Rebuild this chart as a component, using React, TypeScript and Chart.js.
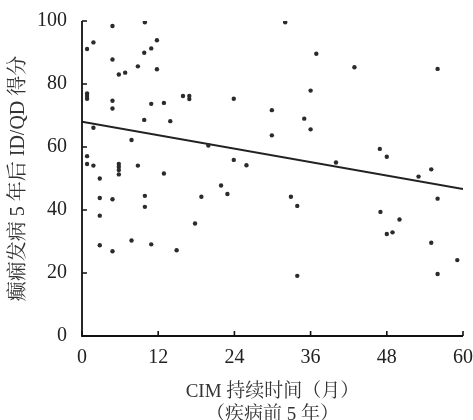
import React, { useEffect, useRef } from "react";
import { Chart, registerables } from "chart.js";

Chart.register(...registerables);

const xValues = [
  4.8, 9.9, 1.8, 0.8, 11.8, 10.9, 9.8, 4.8, 8.8, 11.8, 6.8, 5.8, 0.8, 0.8, 0.8,
  4.8, 4.8, 10.9, 12.9, 15.9, 16.9, 16.9, 9.8, 13.9, 1.8, 7.8, 0.8, 0.8, 1.8,
  5.8, 5.8, 5.8, 8.8, 5.8, 12.9, 2.8, 2.8, 4.8, 9.9, 9.9, 18.8, 2.8, 17.8, 7.8,
  2.8, 4.8, 10.9, 14.9, 32.0, 36.9, 36.0, 23.9, 29.9, 35.0, 36.0, 29.9, 19.9,
  23.9, 25.9, 40.0, 21.9, 22.9, 32.9, 33.9, 33.9, 42.9, 56.0, 46.9, 48.0, 55.0,
  53.0, 56.0, 47.0, 50.0, 48.0, 48.9, 55.0, 59.1, 56.0,
];
const yValues = [
  98.4, 99.6, 93.2, 91.1, 93.9, 91.3, 89.9, 87.8, 85.6, 84.7, 83.6, 83.0, 77.0,
  76.2, 75.3, 74.7, 72.2, 73.7, 74.0, 76.2, 76.2, 75.2, 68.6, 68.2, 66.1, 62.2,
  57.1, 54.6, 54.1, 54.6, 53.7, 52.7, 54.1, 51.3, 51.6, 50.0, 43.8, 43.4, 44.5,
  41.0, 44.2, 38.2, 35.7, 30.3, 28.8, 26.9, 29.1, 27.2, 99.6, 89.6, 77.9, 75.3,
  71.7, 69.0, 65.6, 63.7, 60.5, 55.9, 54.2, 55.1, 47.8, 45.1, 44.2, 41.3, 19.1,
  85.3, 84.8, 59.4, 56.9, 52.9, 50.6, 43.6, 39.4, 37.0, 32.4, 32.9, 29.6, 24.1,
  19.7,
];
const fitX = [0, 60];
const fitY = [68.0, 46.7];
const xTicks = [0, 12, 24, 36, 48, 60];
const yTicks = [0, 20, 40, 60, 80, 100];
const xTitle = ["CIM 持续时间（月）", "（疾病前 5 年）"];
const yTitle = "癫痫发病 5 年后 ID/QD 得分";

const FONT = "'Liberation Serif', 'Noto Serif CJK SC', 'Noto Sans CJK SC', serif";

const axisPlugin = {
  id: "innerAxes",
  afterDraw(chart: any) {
    const ctx = chart.ctx;
    const xs = chart.scales.x;
    const ys = chart.scales.y;
    const left = xs.getPixelForValue(0);
    const right = xs.getPixelForValue(60);
    const bottom = ys.getPixelForValue(0);
    const top = ys.getPixelForValue(100);
    ctx.save();
    ctx.strokeStyle = "#111";
    ctx.lineWidth = 1.8;
    ctx.beginPath();
    ctx.moveTo(left, top);
    ctx.lineTo(left, bottom);
    ctx.lineTo(right, bottom);
    ctx.stroke();
    ctx.lineWidth = 1.6;
    ctx.beginPath();
    yTicks.forEach((v) => {
      const py = ys.getPixelForValue(v);
      ctx.moveTo(left, py);
      ctx.lineTo(left + 5, py);
    });
    xTicks.forEach((v) => {
      const px = xs.getPixelForValue(v);
      ctx.moveTo(px, bottom);
      ctx.lineTo(px, bottom - 5);
    });
    ctx.stroke();
    ctx.restore();
  },
};

const zeroPad = (s: any) => {
  s.paddingTop = 0;
  s.paddingBottom = 0;
  s.paddingLeft = 0;
  s.paddingRight = 0;
};

export default function App() {
  const ref = useRef<HTMLCanvasElement | null>(null);
  useEffect(() => {
    document.body.style.margin = "0";
    const canvas = ref.current!;
    const points = xValues.map((x, i) => ({ x, y: yValues[i] }));
    const fit = fitX.map((x, i) => ({ x, y: fitY[i] }));
    const chart = new Chart(canvas, {
      type: "scatter",
      data: {
        datasets: [
          {
            data: points,
            pointRadius: 2.2,
            pointBackgroundColor: "#2b2b2b",
            pointBorderWidth: 0,
            pointHoverRadius: 2.2,
          },
          {
            type: "line",
            data: fit,
            showLine: true,
            pointRadius: 0,
            borderColor: "#222",
            borderWidth: 2,
            fill: false,
          } as any,
        ],
      },
      options: {
        animation: false,
        responsive: false,
        events: [],
        layout: { padding: { top: 21, right: 10, left: 0, bottom: 0 } },
        plugins: { legend: { display: false }, tooltip: { enabled: false } },
        scales: {
          x: {
            type: "linear",
            min: 0,
            max: 60,
            afterBuildTicks: (s: any) => {
              s.ticks = xTicks.map((v) => ({ value: v }));
            },
            afterFit: (s: any) => {
              s.height = 84;
              zeroPad(s);
            },
            grid: { display: false, drawTicks: false },
            border: { display: false },
            ticks: {
              padding: 10,
              color: "#222",
              font: { family: FONT, size: 20 },
              maxRotation: 0,
            },
            title: {
              display: true,
              text: xTitle,
              color: "#333",
              font: { family: FONT, size: 19 },
              padding: { top: 0, bottom: -6 },
            },
          },
          y: {
            type: "linear",
            min: 0,
            max: 100,
            afterBuildTicks: (s: any) => {
              s.ticks = yTicks.map((v) => ({ value: v }));
            },
            afterFit: (s: any) => {
              s.width = 82;
              zeroPad(s);
            },
            grid: { display: false, drawTicks: false },
            border: { display: false },
            ticks: {
              padding: 15,
              color: "#222",
              font: { family: FONT, size: 20 },
            },
            title: {
              display: true,
              text: yTitle,
              color: "#333",
              font: { family: FONT, size: 20 },
              padding: { top: 7, bottom: 0 },
            },
          },
        },
      },
      plugins: [axisPlugin],
    });
    return () => chart.destroy();
  }, []);
  return (
    <div style={{ width: 473, height: 420 }}>
      <canvas ref={ref} width={473} height={420} style={{ display: "block" }} />
    </div>
  );
}
